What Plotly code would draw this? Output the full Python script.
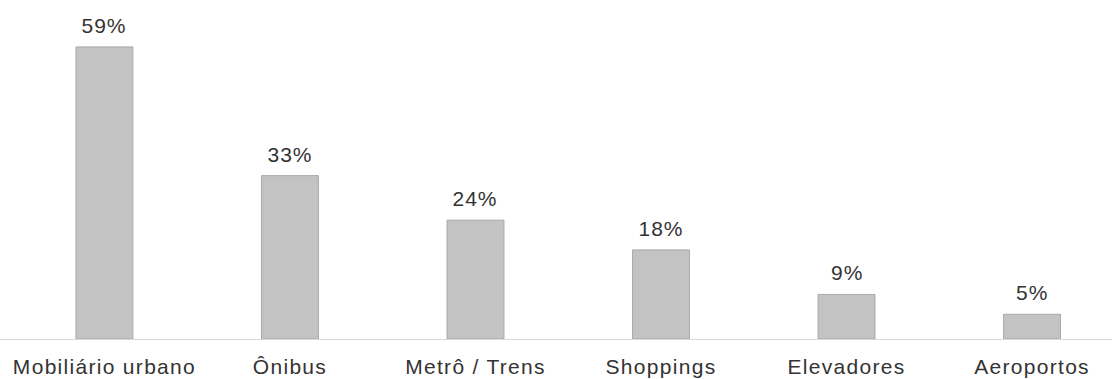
import plotly.graph_objects as go

categorias = ["Mobiliário urbano", "Ônibus", "Metrô / Trens", "Shoppings", "Elevadores", "Aeroportos"]
percentuais = [59, 33, 24, 18, 9, 5]
rotulos = ["59%", "33%", "24%", "18%", "9%", "5%"]

cor_barra = "#c3c3c3"
cor_borda = "#a9a9a9"
cor_texto = "#333333"
fonte = "Liberation Sans"

fig = go.Figure()
fig.add_trace(go.Bar(
    x=categorias,
    y=percentuais,
    width=0.307,
    marker=dict(color=cor_barra, line=dict(color=cor_borda, width=1)),
    hoverinfo="skip",
))

for cat, val, lab in zip(categorias, percentuais, rotulos):
    fig.add_annotation(
        x=cat, y=val, text=lab, showarrow=False,
        yanchor="bottom", yshift=8,
        font=dict(family=fonte, size=21, color=cor_texto),
    )

fig.update_layout(
    width=1112, height=379,
    margin=dict(l=0, r=0, t=0, b=40),
    paper_bgcolor="white", plot_bgcolor="white",
    showlegend=False,
    xaxis=dict(
        range=[-0.563, 5.431],
        showgrid=False, zeroline=False,
        showline=True, linecolor="#d9d9d9", linewidth=1,
        ticks="outside", ticklen=9, tickcolor="rgba(0,0,0,0)",
        tickfont=dict(family=fonte, size=21, color=cor_texto),
    ),
    yaxis=dict(
        range=[0, 68.48],
        showgrid=False, zeroline=False, showticklabels=False,
        fixedrange=True,
    ),
)

# Slightly spaced lettering for category and value labels
espacamento = """
var gd = document.getElementById('{plot_id}');
function espacar() {
  gd.querySelectorAll('.xtick text').forEach(function (t) { t.style.letterSpacing = '1.3px'; });
  gd.querySelectorAll('.annotation-text').forEach(function (t) { t.style.letterSpacing = '1px'; });
}
espacar();
gd.on('plotly_afterplot', espacar);
"""

fig.write_html("out.html", post_script=espacamento)
